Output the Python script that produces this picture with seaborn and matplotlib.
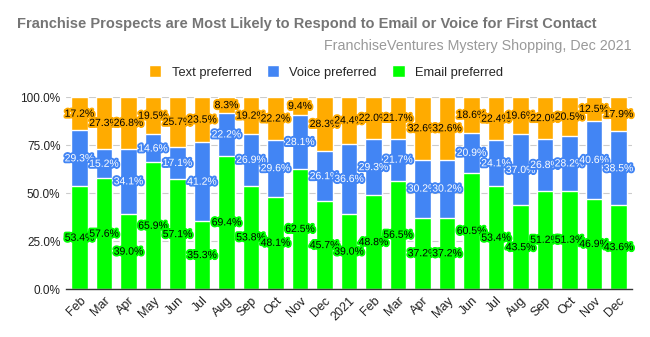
import matplotlib
matplotlib.use("Agg")
import matplotlib.pyplot as plt
import matplotlib.patheffects as pe
from matplotlib.patches import Patch
from matplotlib.ticker import FixedLocator
import numpy as np
import pandas as pd
import seaborn as sns

# Monthly survey periods (Feb 2020 - Dec 2021)
months = ["Feb", "Mar", "Apr", "May", "Jun", "Jul", "Aug", "Sep", "Oct", "Nov", "Dec",
          "2021", "Feb", "Mar", "Apr", "May", "Jun", "Jul", "Aug", "Sep", "Oct", "Nov", "Dec"]

# Share of prospects by preferred first-contact channel (%)
email = [53.4, 57.6, 39.0, 65.9, 57.1, 35.3, 69.4, 53.8, 48.1, 62.5, 45.7,
         39.0, 48.8, 56.5, 37.2, 37.2, 60.5, 53.4, 43.5, 51.2, 51.3, 46.9, 43.6]
voice = [29.3, 15.2, 34.1, 14.6, 17.1, 41.2, 22.2, 26.9, 29.6, 28.1, 26.1,
         36.6, 29.3, 21.7, 30.2, 30.2, 20.9, 24.1, 37.0, 26.8, 28.2, 40.6, 38.5]
text = [17.2, 27.3, 26.8, 19.5, 25.7, 23.5, 8.3, 19.2, 22.2, 9.4, 28.3,
        24.4, 22.0, 21.7, 32.6, 32.6, 18.6, 22.4, 19.6, 22.0, 20.5, 12.5, 17.9]

yticks = [0, 25, 50, 75, 100]

C_TEXT = "#FFAB00"
C_VOICE = "#4285F4"
C_EMAIL = "#00FF00"

sns.set_theme(style="white")
plt.rcParams["font.family"] = ["Liberation Sans", "DejaVu Sans"]

df = pd.DataFrame({"period": range(len(months)), "email": email,
                   "voice": voice, "text": text})
df["ev"] = df["email"] + df["voice"]
df["total"] = df["ev"] + df["text"]

fig = plt.figure(figsize=(6.5, 3.37), dpi=100)
ax = fig.add_axes([66 / 650, 1 - 289 / 337, (632 - 66) / 650, (289 - 97) / 337])

# Stack by layering cumulative totals, back to front
for col, color in [("total", C_TEXT), ("ev", C_VOICE), ("email", C_EMAIL)]:
    sns.barplot(data=df, x="period", y=col, color=color, width=0.66,
                saturation=1, ax=ax, errorbar=None, zorder=2)

# Segment value labels with halo
for i, row in df.iterrows():
    segs = [(0, row["email"], C_EMAIL, "black"),
            (row["email"], row["voice"], C_VOICE, "white"),
            (row["ev"], row["text"], C_TEXT, "black")]
    for bottom, h, col, tcol in segs:
        ax.text(i, bottom + h / 2, f"{h:.1f}%", ha="center", va="center",
                fontsize=7.5, color=tcol, zorder=5,
                path_effects=[pe.withStroke(linewidth=2.8, foreground=col)])

ax.set_ylim(0, 100)
ax.set_xlim(-0.55, len(months) - 0.45)
ax.yaxis.set_major_locator(FixedLocator(yticks))
ax.set_yticklabels([f"{v:.1f}%" for v in yticks], fontsize=8.5, color="#222222")
ax.set_xticks(range(len(months)))
ax.set_xticklabels(months, rotation=45, ha="right", rotation_mode="anchor",
                   fontsize=9, color="#222222")
ax.set_xlabel("")
ax.set_ylabel("")
ax.tick_params(axis="both", length=0, pad=4)
ax.grid(axis="y", color="#CCCCCC", linewidth=0.8, zorder=0)
ax.set_axisbelow(True)
for s in ["top", "right", "left"]:
    ax.spines[s].set_visible(False)
ax.spines["bottom"].set_color("#333333")
ax.spines["bottom"].set_linewidth(1.0)
ax.spines["bottom"].set_zorder(6)

fig.text(17 / 650, 1 - 24 / 337,
         "Franchise Prospects are Most Likely to Respond to Email or Voice for First Contact",
         ha="left", va="center", fontsize=10.5, fontweight="bold", color="#757575")
fig.text(632 / 650, 1 - 46 / 337, "FranchiseVentures Mystery Shopping, Dec 2021",
         ha="right", va="center", fontsize=10.3, color="#999999")

handles = [Patch(facecolor=C_TEXT, label="Text preferred"),
           Patch(facecolor=C_VOICE, label="Voice preferred"),
           Patch(facecolor=C_EMAIL, label="Email preferred")]
fig.legend(handles=handles, loc="center", bbox_to_anchor=(326 / 650, 1 - 72 / 337),
           ncol=3, frameon=False, fontsize=9.3, handlelength=0.95, handleheight=0.95,
           handletextpad=0.8, columnspacing=1.2)

fig.savefig("out.png", dpi=100)
